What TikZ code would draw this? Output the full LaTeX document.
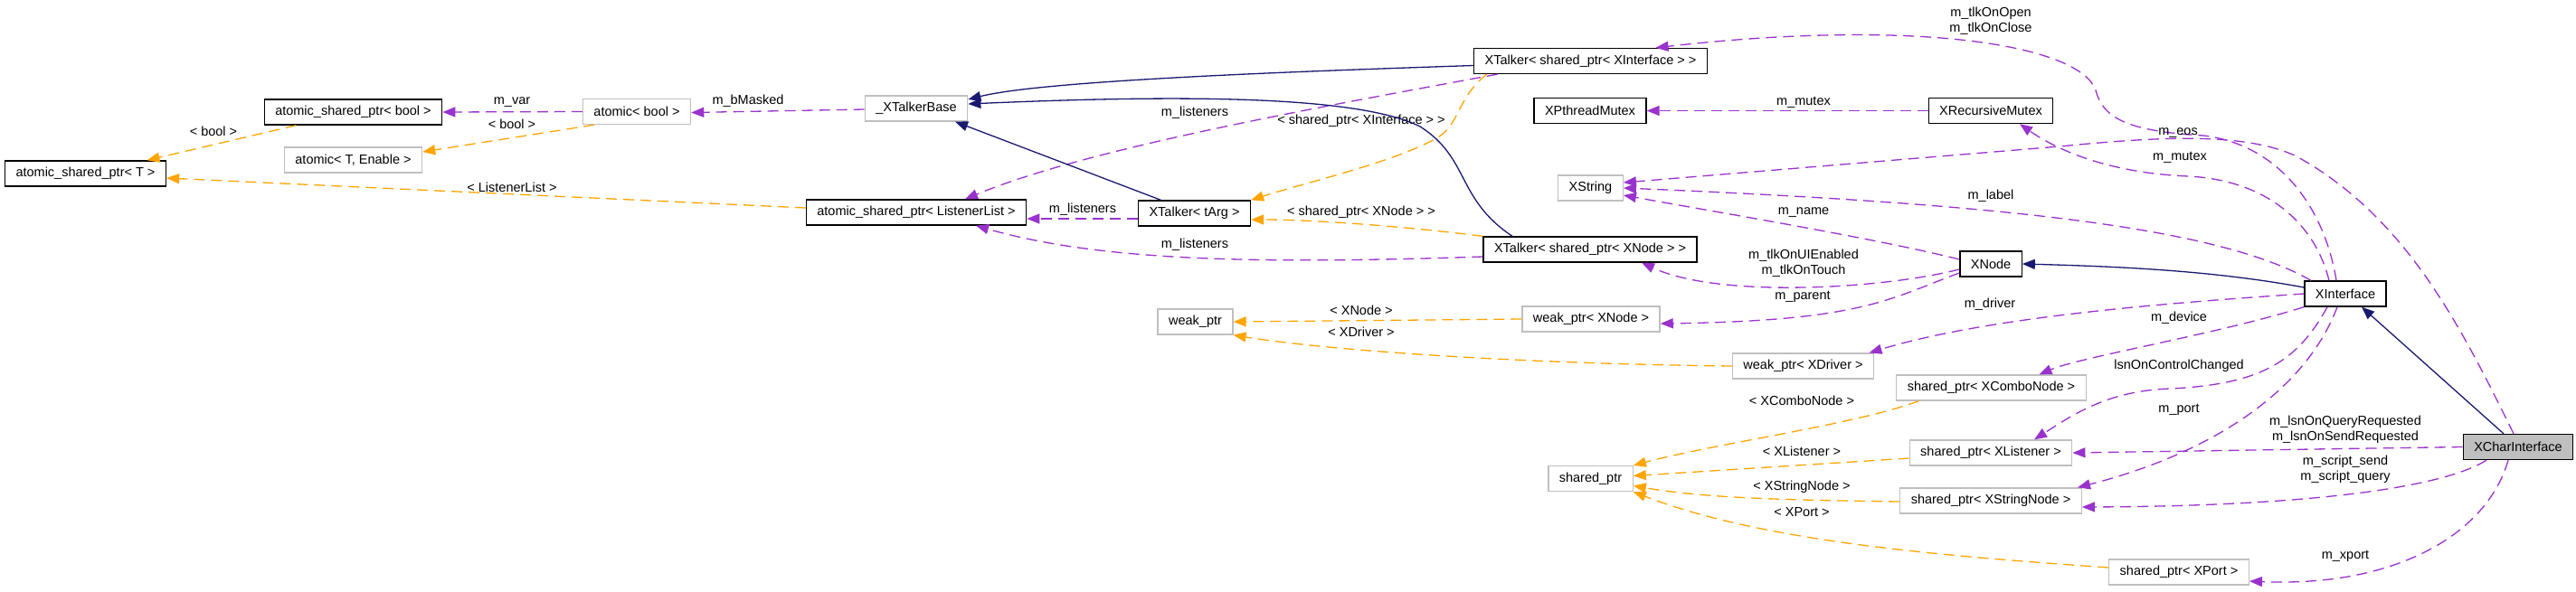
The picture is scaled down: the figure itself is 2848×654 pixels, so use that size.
\documentclass[tikz,border=0pt]{standalone}
\usepackage{fontspec}
\setmainfont{Liberation Sans}
\usetikzlibrary{arrows.meta}

\definecolor{edgeuse}{HTML}{9A32CD}
\definecolor{edgetpl}{HTML}{FFA500}
\definecolor{edgeinh}{HTML}{191970}
\definecolor{grey75}{HTML}{BFBFBF}

\begin{document}
\begin{tikzpicture}[x=1pt, y=-1pt, font={\fontsize{14.5}{17}\selectfont},
  cls/.style={draw=black, line width=1.3pt, fill=white, minimum height=28pt, inner xsep=12pt, inner ysep=0pt},
  ext/.style={cls, draw=grey75},
  cur/.style={cls, fill=grey75},
  mem/.style={draw=edgeuse, line width=1.3pt, dash pattern=on 12pt off 7pt, -{Triangle[length=14pt,width=11pt]}},
  tpl/.style={mem, draw=edgetpl},
  inh/.style={draw=edgeinh, line width=1.3pt, -{Triangle[length=14pt,width=11pt]}},
  lbl/.style={align=center, inner sep=0pt}]
\useasboundingbox[fill=white] (0,0) rectangle (2848,654);

\node[cls] (aspT) at (94.5,192) {atomic\_shared\_ptr< T >};
\node[cls] (aspBool) at (390.5,124) {atomic\_shared\_ptr< bool >};
\node[ext] (atomicBool) at (704,123.5) {atomic< bool >};
\node[ext] (atomicTE) at (390.5,177) {atomic< T, Enable >};
\node[ext] (talkerBase) at (1013,120) {\_XTalkerBase};
\node[cls] (talkerIf) at (1758.5,67.5) {XTalker< shared\_ptr< XInterface > >};
\node[cls] (pthreadMutex) at (1758,122.5) {XPthreadMutex};
\node[cls] (recMutex) at (2201,122.5) {XRecursiveMutex};
\node[ext] (xstring) at (1758.5,208) {XString};
\node[cls] (aspLL) at (1013,235) {atomic\_shared\_ptr< ListenerList >};
\node[cls] (talkerArg) at (1320.5,236) {XTalker< tArg >};
\node[cls] (talkerNode) at (1758,276) {XTalker< shared\_ptr< XNode > >};
\node[cls] (xnode) at (2201,292) {XNode};
\node[cls] (xif) at (2593,325) {XInterface};
\node[ext] (weakPtr) at (1321.5,356) {weak\_ptr};
\node[ext] (weakNode) at (1759,353) {weak\_ptr< XNode >};
\node[ext] (weakDriver) at (1993.5,405) {weak\_ptr< XDriver >};
\node[ext] (spCombo) at (2201.5,429) {shared\_ptr< XComboNode >};
\node[ext] (sharedPtr) at (1758.5,529.5) {shared\_ptr};
\node[ext] (spListener) at (2201,501) {shared\_ptr< XListener >};
\node[ext] (spString) at (2201,554) {shared\_ptr< XStringNode >};
\node[ext] (spPort) at (2409,633) {shared\_ptr< XPort >};
\node[cur] (xcif) at (2784,494.5) {XCharInterface};

\draw[mem] (atomicBool.west) -- (aspBool.east);
\node[lbl] (lVar) at (566,113) {m\_var};
\draw[mem] ([yshift=-1pt]talkerBase.west) -- ([yshift=-1pt]atomicBool.east);
\node[lbl] (lMasked) at (827,112) {m\_bMasked};
\draw[mem] ([xshift=-103pt]talkerIf.south) .. controls (1450,120) and (1200,165) .. ([xshift=54pt]aspLL.north);
\node[lbl] (lLsn1) at (1321,125) {m\_listeners};
\draw[mem] ([yshift=-6pt]talkerArg.west) -- ([yshift=-7pt]aspLL.east);
\node[lbl] (lLsn2) at (1197,232) {m\_listeners};
\draw[mem] ([yshift=-8pt]talkerNode.west) .. controls (1400,292) and (1220,290) .. ([xshift=66pt]aspLL.south);
\node[lbl] (lLsn3) at (1321,271) {m\_listeners};
\draw[mem] (recMutex.west) -- (pthreadMutex.east);
\node[lbl] (lMutex1) at (1994,113) {m\_mutex};
\draw[mem] ([xshift=-10pt]xif.north) .. controls (2570,230) and (2520,160) .. (2436,150) .. controls (2350,145) and (2325,130) .. (2317,100) .. controls (2300,50) and (2120,20) .. ([xshift=72pt]talkerIf.north);
\node[lbl] (lOpen) at (2201,23) {m\_tlkOnOpen\\m\_tlkOnClose};
\draw[mem] ([xshift=-5pt]xcif.north) .. controls (2720,360) and (2660,240) .. (2539,173) .. controls (2480,145) and (2380,152) .. (2277,162) -- ([yshift=6pt]xstring.east);
\node[lbl] (lEos) at (2408,147) {m\_eos};
\draw[mem] ([xshift=-18pt]xif.north) .. controls (2560,250) and (2510,200) .. (2420,195) .. controls (2340,192) and (2280,170) .. ([xshift=32pt]recMutex.south);
\node[lbl] (lMutex2) at (2410,174) {m\_mutex};
\draw[mem] ([xshift=-38pt]xif.north) .. controls (2450,250) and (2200,225) .. (xstring.east);
\node[lbl] (lLabel) at (2201,217) {m\_label};
\draw[mem] ([yshift=5pt]xnode.west) .. controls (2080,265) and (1900,235) .. ([yshift=-8pt]xstring.east);
\node[lbl] (lName) at (1994,235) {m\_name};
\draw[mem] ([yshift=-6pt]xnode.west) .. controls (2080,320) and (1900,330) .. ([xshift=57pt]talkerNode.south);
\node[lbl] (lTouch) at (1994,291) {m\_tlkOnUIEnabled\\m\_tlkOnTouch};
\draw[mem] ([yshift=-10pt]xnode.west) .. controls (2090,330) and (2060,355) .. ([yshift=-5pt]weakNode.east);
\node[lbl] (lParent) at (1993,328) {m\_parent};
\draw[mem] (xif.west) .. controls (2400,335) and (2200,350) .. ([xshift=73pt]weakDriver.north);
\node[lbl] (lDriver) at (2200,337) {m\_driver};
\draw[mem] (xif.south west) .. controls (2450,370) and (2300,395) .. ([xshift=53pt]spCombo.north);
\node[lbl] (lDevice) at (2409,352) {m\_device};
\draw[mem] ([xshift=-20pt]xif.south) .. controls (2540,400) and (2500,425) .. (2400,430) .. controls (2330,432) and (2290,460) .. ([xshift=48pt]spListener.north);
\node[lbl] (lCtrl) at (2409,405) {lsnOnControlChanged};
\draw[mem] ([xshift=-9pt]xif.south) .. controls (2550,430) and (2450,500) .. ([xshift=96pt]spString.north);
\node[lbl] (lPort) at (2409,453) {m\_port};
\draw[mem] (xcif.west) -- (spListener.east);
\node[lbl] (lQuery) at (2593,475.5) {m\_lsnOnQueryRequested\\m\_lsnOnSendRequested};
\draw[mem] ([xshift=-35pt]xcif.south) .. controls (2700,540) and (2550,560) .. ([yshift=-7pt]spString.east);
\node[lbl] (lScript) at (2593,519.5) {m\_script\_send\\m\_script\_query};
\draw[mem] ([xshift=-11pt]xcif.south) .. controls (2750,590) and (2650,650) .. ([yshift=-10pt]spPort.east);
\node[lbl] (lXport) at (2593,615) {m\_xport};

\draw[tpl] ([xshift=-63pt]aspBool.south) -- ([xshift=68pt]aspT.north);
\node[lbl] (tBool1) at (236,145) {< bool >};
\draw[tpl] ([xshift=-47pt]atomicBool.south) -- ([yshift=9pt]atomicTE.east);
\node[lbl] (tBool2) at (566,137) {< bool >};
\draw[tpl] ([yshift=5pt]aspLL.west) -- ([yshift=-5pt]aspT.east);
\node[lbl] (tLL) at (566,207) {< ListenerList >};
\draw[tpl] ([xshift=-115pt]talkerIf.south) .. controls (1610,110) and (1615,135) .. (1590,152) .. controls (1540,180) and (1450,200) .. (talkerArg.north east);
\node[lbl] (tIf) at (1505,134) {< shared\_ptr< XInterface > >};
\draw[tpl] (talkerNode.north west) .. controls (1550,250) and (1450,243) .. ([yshift=-7pt]talkerArg.east);
\node[lbl] (tNode) at (1505,235) {< shared\_ptr< XNode > >};
\draw[tpl] (weakNode.west) -- (weakPtr.east);
\node[lbl] (tXNode) at (1505,343) {< XNode >};
\draw[tpl] (weakDriver.west) .. controls (1650,402) and (1450,385) .. (weakPtr.south east);
\node[lbl] (tXDriver) at (1505,367) {< XDriver >};
\draw[tpl] ([xshift=-80pt]spCombo.south) .. controls (2050,470) and (1900,490) .. (sharedPtr.north east);
\node[lbl] (tCombo) at (1992,443) {< XComboNode >};
\draw[tpl] ([yshift=-6pt]spListener.west) -- ([yshift=3pt]sharedPtr.east);
\node[lbl] (tListener) at (1992,499) {< XListener >};
\draw[tpl] ([yshift=-1pt]spString.west) .. controls (1950,553) and (1880,550) .. ([yshift=-8pt]sharedPtr.east);
\node[lbl] (tStrNode) at (1992,539) {< XStringNode >};
\draw[tpl] ([yshift=5pt]spPort.west) .. controls (2150,615) and (1950,600) .. (sharedPtr.south east);
\node[lbl] (tPort) at (1992,567) {< XPort >};

\draw[inh] ([yshift=-5pt]talkerIf.west) .. controls (1400,80) and (1150,90) .. ([yshift=10pt]talkerBase.east);
\draw[inh] ([xshift=-86pt]talkerNode.north) .. controls (1610,220) and (1625,175) .. (1570,140) .. controls (1500,105) and (1300,105) .. ([yshift=5pt]talkerBase.east);
\draw[inh] ([xshift=-37pt]talkerArg.north) -- ([xshift=43pt]talkerBase.south);
\draw[inh] ([yshift=7pt]xif.west) .. controls (2450,300) and (2350,295) .. (xnode.east);
\draw[inh] ([xshift=-16pt]xcif.north) -- ([xshift=18pt]xif.south);
\end{tikzpicture}
\end{document}
